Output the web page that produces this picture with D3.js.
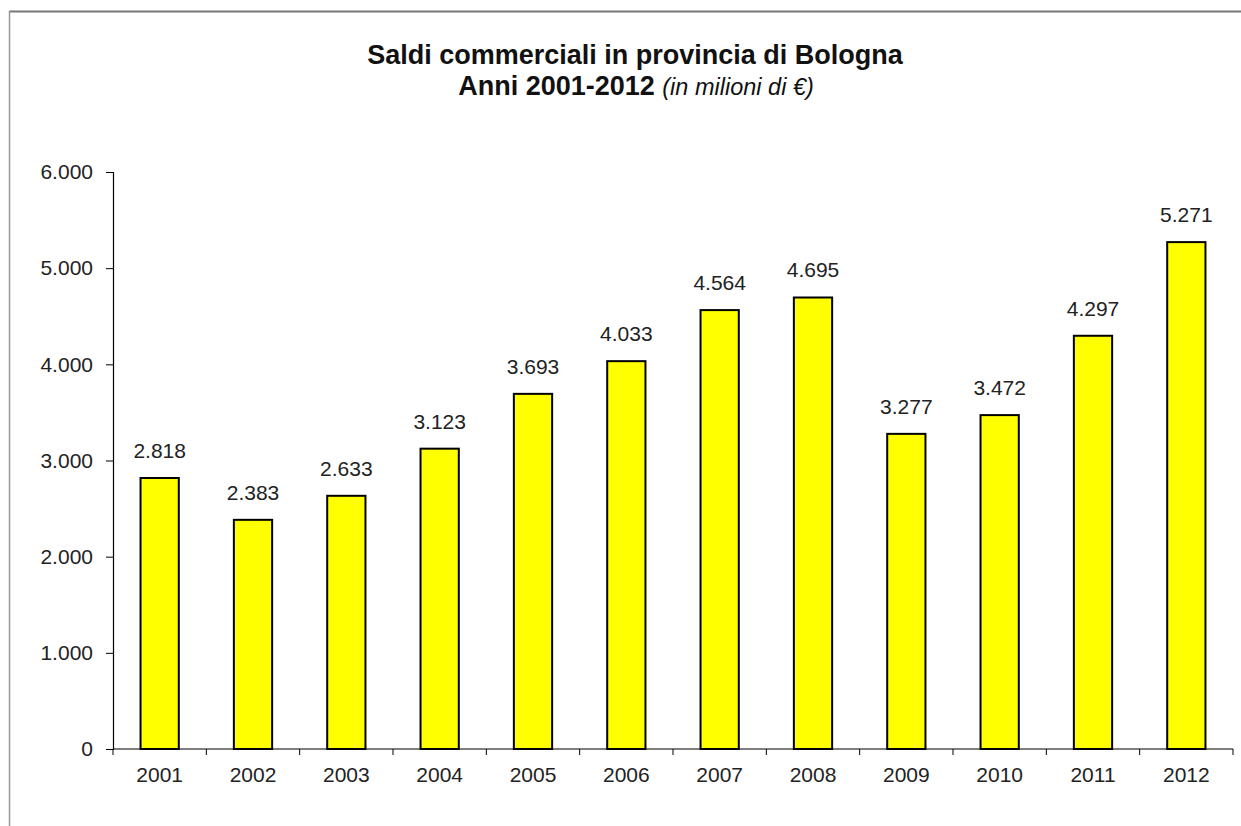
<!DOCTYPE html>
<html>
<head>
<meta charset="utf-8">
<script src="https://cdn.jsdelivr.net/npm/d3@7"></script>
<style>
  html, body { margin: 0; padding: 0; background: #fff; }
  svg { display: block; font-family: "Liberation Sans", Arial, sans-serif; }
</style>
</head>
<body>
<svg id="chart" width="1241" height="826"></svg>
<script>
// Trade balance, province of Bologna (million €)
const years = ["2001","2002","2003","2004","2005","2006","2007","2008","2009","2010","2011","2012"];
const saldi = [2818, 2383, 2633, 3123, 3693, 4033, 4564, 4695, 3277, 3472, 4297, 5271];
const yTicks = [0, 1000, 2000, 3000, 4000, 5000, 6000];

const svg = d3.select("#chart");
const fmt = d3.formatLocale({ decimal: ",", thousands: ".", grouping: [3], currency: ["", "€"] }).format(",d");
const labelSize = 21;

// frame lines (top and left)
svg.append("line").attr("x1", 9).attr("x2", 1241).attr("y1", 11.5).attr("y2", 11.5)
  .attr("stroke", "#777").attr("stroke-width", 2);
svg.append("line").attr("x1", 9.5).attr("x2", 9.5).attr("y1", 11).attr("y2", 826)
  .attr("stroke", "#999").attr("stroke-width", 1.5);

// title
svg.append("text").attr("text-anchor", "middle").attr("x", 635).attr("y", 64)
  .attr("fill", "#111").attr("font-weight", "bold").attr("font-size", 27)
  .text("Saldi commerciali in provincia di Bologna");
const t2 = svg.append("text").attr("text-anchor", "middle").attr("x", 636).attr("y", 95).attr("fill", "#111");
t2.append("tspan").attr("font-weight", "bold").attr("font-size", 27).text("Anni 2001-2012 ");
t2.append("tspan").attr("font-style", "italic").attr("font-size", 23.5).text("(in milioni di €)");

const plotLeft = 113, plotRight = 1233, plotTop = 172, plotBottom = 749;

const x = d3.scaleBand().domain(years).range([plotLeft, plotRight]).paddingInner(0.59).paddingOuter(0.295);
const y = d3.scaleLinear().domain([0, 6000]).range([plotBottom, plotTop]);

// bars
svg.append("g").selectAll("rect").data(saldi).join("rect")
  .attr("x", (d, i) => x(years[i]))
  .attr("y", d => y(d))
  .attr("width", x.bandwidth())
  .attr("height", d => y(0) - y(d))
  .attr("fill", "#ffff00")
  .attr("stroke", "#000")
  .attr("stroke-width", 2);

// value labels
svg.append("g").selectAll("text").data(saldi).join("text")
  .attr("x", (d, i) => x(years[i]) + x.bandwidth() / 2)
  .attr("y", d => y(d) - 20)
  .attr("text-anchor", "middle")
  .attr("font-size", labelSize)
  .attr("fill", "#222")
  .text(d => fmt(d));

// y axis
const yAxis = svg.append("g").attr("transform", `translate(${plotLeft},0)`)
  .call(d3.axisLeft(y).tickValues(yTicks).tickSize(7).tickPadding(13).tickFormat(d => fmt(d)));
yAxis.select(".domain").attr("stroke", "#000").attr("stroke-width", 1.2);
yAxis.selectAll(".tick line").attr("stroke", "#000");
yAxis.selectAll(".tick text").attr("font-size", labelSize).attr("fill", "#222")
  .attr("font-family", "'Liberation Sans', Arial, sans-serif");

// x axis with ticks on category boundaries
const xAxisG = svg.append("g").attr("transform", `translate(0,${plotBottom})`);
xAxisG.append("line").attr("x1", plotLeft).attr("x2", plotRight).attr("stroke", "#000").attr("stroke-width", 1.2);
const step = x.step();
const bounds = d3.range(years.length + 1).map(i => plotLeft + i * step);
xAxisG.selectAll("line.tk").data(bounds).join("line").attr("class", "tk")
  .attr("x1", d => d).attr("x2", d => d).attr("y1", 0).attr("y2", 6).attr("stroke", "#000");
xAxisG.selectAll("text").data(years).join("text")
  .attr("x", d => x(d) + x.bandwidth() / 2)
  .attr("y", 33)
  .attr("text-anchor", "middle")
  .attr("font-size", labelSize)
  .attr("fill", "#222")
  .text(d => d);
</script>
</body>
</html>
